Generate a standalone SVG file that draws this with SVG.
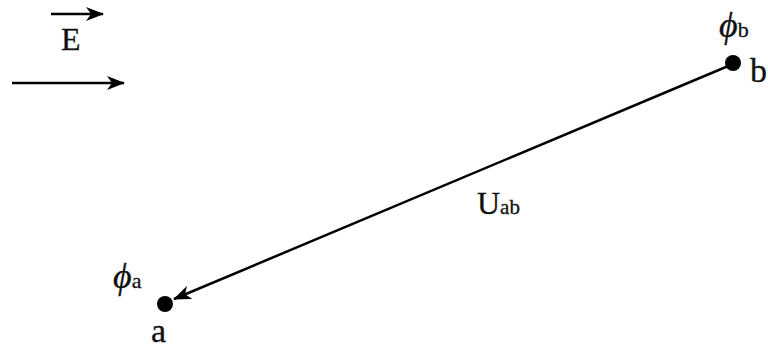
<svg xmlns="http://www.w3.org/2000/svg" width="768" height="350" viewBox="0 0 768 350">
<style>
.t{font-family:"Liberation Serif","DejaVu Serif",serif;fill:#111;stroke:#111;stroke-width:0.3}
.ln{stroke:#000;stroke-width:2.5;fill:none}
</style>
<defs>
<marker id="ah2" markerWidth="18" markerHeight="14" refX="17" refY="7" orient="auto" markerUnits="userSpaceOnUse"><path d="M0,0 L18,7 L0,14 L5,7 Z" fill="#000"/></marker>
</defs>
<rect width="768" height="350" fill="#fff"/>
<g id="legend">
<line class="ln" x1="51" y1="14" x2="103" y2="14" marker-end="url(#ah2)"/>
<text class="t" x="61" y="50" font-size="32">E</text>
<line class="ln" x1="12" y1="83" x2="124" y2="83" marker-end="url(#ah2)"/>
</g>
<g id="connectors">
<line class="ln" x1="733" y1="64" x2="174" y2="299" stroke-width="2" marker-end="url(#ah2)"/>
<text class="t" x="477" y="214" font-size="32">U<tspan font-size="21">ab</tspan></text>
</g>
<g id="node-b">
<circle cx="733" cy="63" r="8" fill="#000"/>
<text class="t" x="750" y="82" font-size="34">b</text>
<text class="t" x="719" y="37" font-size="36" font-style="italic">ϕ<tspan font-style="normal" font-size="22">b</tspan></text>
</g>
<g id="node-a">
<circle cx="165" cy="304" r="8" fill="#000"/>
<text class="t" x="151" y="342" font-size="34">a</text>
<text class="t" x="113" y="288" font-size="36" font-style="italic">ϕ<tspan font-style="normal" font-size="22">a</tspan></text>
</g>
</svg>
